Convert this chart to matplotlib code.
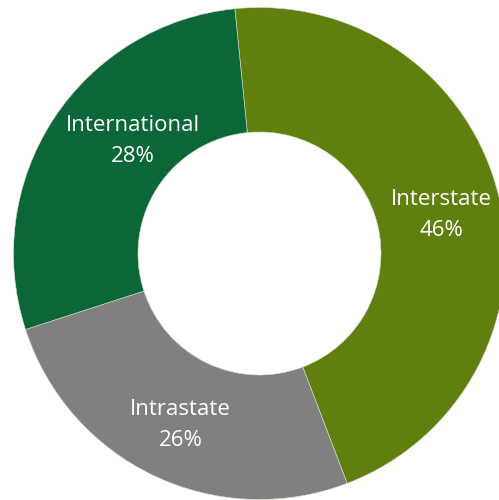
import matplotlib.pyplot as plt

categories = ["Interstate", "Intrastate", "International"]
shares = [45.8, 25.8, 28.4]
pct_labels = ["46%", "26%", "28%"]
colors = ["#5f7f0f", "#808080", "#0b6638"]

# label anchor points (pixel coords, origin bottom-left)
label_xy = [(441, 285), (180.5, 75), (133, 359)]

W, H = 499, 500
fig = plt.figure(figsize=(W / 100, H / 100), dpi=100)
ax = fig.add_axes([0, 0, 1, 1])

cx, cy = 259.5, H - 253.5
r_out, r_in = 246, 121.5

ax.pie(
    shares,
    colors=colors,
    startangle=95.75,
    counterclock=False,
    center=(cx, cy),
    radius=r_out,
    wedgeprops=dict(width=r_out - r_in, edgecolor="#d9e0c8", linewidth=0.4),
)

for name, pct, (x, y) in zip(categories, pct_labels, label_xy):
    ax.text(x, y, f"{name}\n{pct}", ha="center", va="center", color="white",
            fontsize=16, family="Open Sans", linespacing=1.58)

ax.set_xlim(0, W)
ax.set_ylim(0, H)
ax.set_aspect("equal")
ax.axis("off")

fig.savefig("out.png", dpi=100, facecolor="white")
